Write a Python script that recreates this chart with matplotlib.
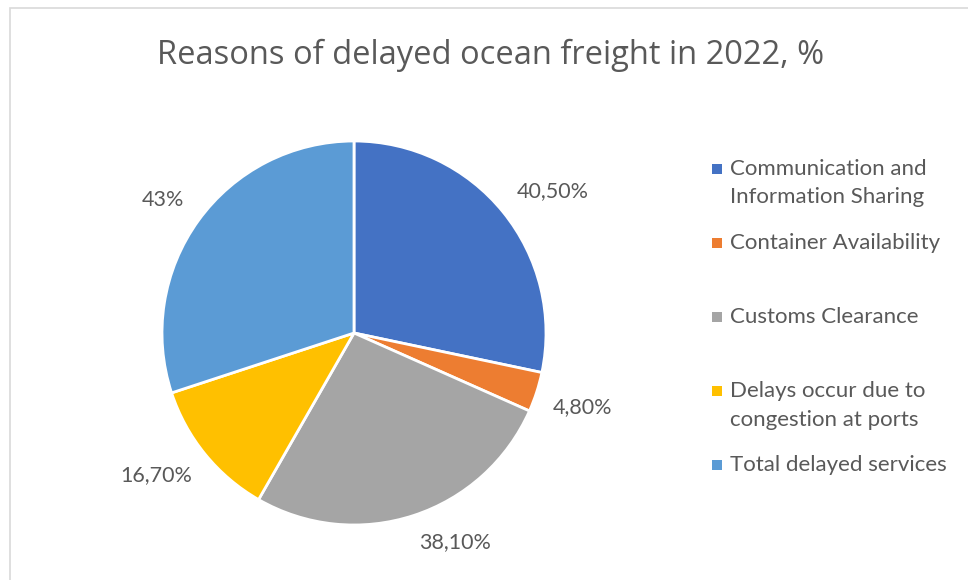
"""Reasons of delayed ocean freight in 2022 - pie chart."""
import matplotlib
matplotlib.use("Agg")
import matplotlib.pyplot as plt
from matplotlib.patches import Rectangle
import numpy as np

categories = [
    "Communication and\nInformation Sharing",
    "Container Availability",
    "Customs Clearance",
    "Delays occur due to\ncongestion at ports",
    "Total delayed services",
]
values = [40.5, 4.8, 38.1, 16.7, 43.0]
value_labels = ["40,50%", "4,80%", "38,10%", "16,70%", "43%"]
colors = ["#4472C4", "#ED7D31", "#A5A5A5", "#FFC000", "#5B9BD5"]

TEXT = "#595959"
FONT = "Lato"

fig = plt.figure(figsize=(9.68, 5.80), dpi=100)

# chart frame (cropped on the right and bottom)
fig.patches.append(Rectangle((10 / 968, -0.05), 2.0, 1 - 8 / 580 + 0.05,
                             transform=fig.transFigure, fill=False,
                             edgecolor="#D9D9D9", lw=1.2))

fig.text(491 / 968, 1 - 55 / 580, "Reasons of delayed ocean freight in 2022, %",
         ha="center", va="center", fontsize=23.5, color=TEXT, family="Open Sans")

ax = fig.add_axes([162 / 968, 1 - 525 / 580, 384 / 968, 384 / 580])
wedges, _ = ax.pie(values, colors=colors, startangle=90, counterclock=False,
                   radius=1.0, wedgeprops=dict(edgecolor="white", linewidth=2))
ax.set_xlim(-1, 1)
ax.set_ylim(-1, 1)
ax.set_aspect("equal")
ax.axis("off")

# data labels: nearest corner of the label sits just outside the slice
for w, lab in zip(wedges, value_labels):
    ang = np.deg2rad((w.theta1 + w.theta2) / 2)
    c, s = np.cos(ang), np.sin(ang)
    r = 1.09
    ax.text(r * c, r * s, lab,
            ha="left" if c > 0 else "right",
            va="bottom" if s > 0 else "top",
            fontsize=15.5, color=TEXT, family=FONT, clip_on=False)

# legend drawn Excel-style, marker next to the first line of each entry
for i, (lab, col) in enumerate(zip(categories, colors)):
    y0 = 169 + 74 * i
    fig.patches.append(Rectangle((712 / 968, 1 - (y0 + 5) / 580), 10 / 968, 10 / 580,
                                 transform=fig.transFigure, facecolor=col,
                                 edgecolor="none"))
    for j, line in enumerate(lab.split("\n")):
        fig.text(730 / 968, 1 - (y0 + 28.5 * j) / 580, line, ha="left",
                 va="center", fontsize=16, color=TEXT, family=FONT)

fig.savefig("out.png", dpi=100)
